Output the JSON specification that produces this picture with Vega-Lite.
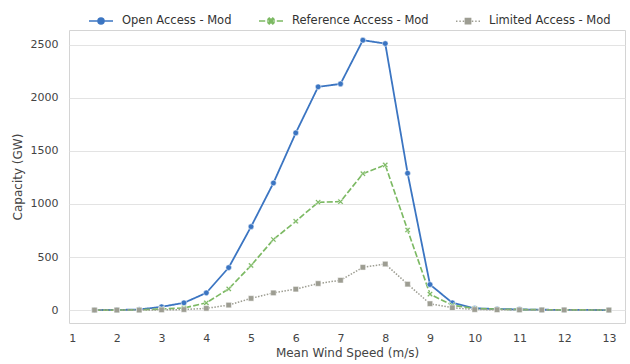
{
  "$schema": "https://vega.github.io/schema/vega-lite/v6.json",
  "autosize": "none",
  "width": 556,
  "height": 293,
  "padding": {"left": 69, "top": 30, "right": 5, "bottom": 41},
  "background": "white",
  "config": {
    "font": "DejaVu Sans",
    "view": {"stroke": "#d4d4d4", "strokeWidth": 1},
    "axis": {"labelFont": "DejaVu Sans", "titleFont": "DejaVu Sans", "labelFontSize": 11, "titleFontSize": 12, "labelColor": "#444444", "titleColor": "#444444", "titleFontWeight": "normal", "domain": false, "ticks": false}
  },
  "datasets": {
    "cap": [
      {"series": "Open Access - Mod", "speed": 1.5, "capacity": 0},
      {"series": "Open Access - Mod", "speed": 2, "capacity": 1},
      {"series": "Open Access - Mod", "speed": 2.5, "capacity": 5},
      {"series": "Open Access - Mod", "speed": 3, "capacity": 31},
      {"series": "Open Access - Mod", "speed": 3.5, "capacity": 68},
      {"series": "Open Access - Mod", "speed": 4, "capacity": 162},
      {"series": "Open Access - Mod", "speed": 4.5, "capacity": 400},
      {"series": "Open Access - Mod", "speed": 5, "capacity": 786},
      {"series": "Open Access - Mod", "speed": 5.5, "capacity": 1198},
      {"series": "Open Access - Mod", "speed": 6, "capacity": 1670},
      {"series": "Open Access - Mod", "speed": 6.5, "capacity": 2104},
      {"series": "Open Access - Mod", "speed": 7, "capacity": 2132},
      {"series": "Open Access - Mod", "speed": 7.5, "capacity": 2544},
      {"series": "Open Access - Mod", "speed": 8, "capacity": 2512},
      {"series": "Open Access - Mod", "speed": 8.5, "capacity": 1290},
      {"series": "Open Access - Mod", "speed": 9, "capacity": 241},
      {"series": "Open Access - Mod", "speed": 9.5, "capacity": 68},
      {"series": "Open Access - Mod", "speed": 10, "capacity": 16},
      {"series": "Open Access - Mod", "speed": 10.5, "capacity": 10},
      {"series": "Open Access - Mod", "speed": 11, "capacity": 6},
      {"series": "Open Access - Mod", "speed": 11.5, "capacity": 3},
      {"series": "Open Access - Mod", "speed": 12, "capacity": 2},
      {"series": "Open Access - Mod", "speed": 13, "capacity": 0},
      {"series": "Reference Access - Mod", "speed": 1.5, "capacity": 0},
      {"series": "Reference Access - Mod", "speed": 2, "capacity": 0},
      {"series": "Reference Access - Mod", "speed": 2.5, "capacity": 2},
      {"series": "Reference Access - Mod", "speed": 3, "capacity": 10},
      {"series": "Reference Access - Mod", "speed": 3.5, "capacity": 20},
      {"series": "Reference Access - Mod", "speed": 4, "capacity": 68},
      {"series": "Reference Access - Mod", "speed": 4.5, "capacity": 200},
      {"series": "Reference Access - Mod", "speed": 5, "capacity": 420},
      {"series": "Reference Access - Mod", "speed": 5.5, "capacity": 665},
      {"series": "Reference Access - Mod", "speed": 6, "capacity": 837},
      {"series": "Reference Access - Mod", "speed": 6.5, "capacity": 1016},
      {"series": "Reference Access - Mod", "speed": 7, "capacity": 1022},
      {"series": "Reference Access - Mod", "speed": 7.5, "capacity": 1286},
      {"series": "Reference Access - Mod", "speed": 8, "capacity": 1368},
      {"series": "Reference Access - Mod", "speed": 8.5, "capacity": 755},
      {"series": "Reference Access - Mod", "speed": 9, "capacity": 150},
      {"series": "Reference Access - Mod", "speed": 9.5, "capacity": 45},
      {"series": "Reference Access - Mod", "speed": 10, "capacity": 15},
      {"series": "Reference Access - Mod", "speed": 10.5, "capacity": 8},
      {"series": "Reference Access - Mod", "speed": 11, "capacity": 5},
      {"series": "Reference Access - Mod", "speed": 11.5, "capacity": 3},
      {"series": "Reference Access - Mod", "speed": 12, "capacity": 2},
      {"series": "Reference Access - Mod", "speed": 13, "capacity": 0},
      {"series": "Limited Access - Mod", "speed": 1.5, "capacity": 0},
      {"series": "Limited Access - Mod", "speed": 2, "capacity": 0},
      {"series": "Limited Access - Mod", "speed": 2.5, "capacity": 0},
      {"series": "Limited Access - Mod", "speed": 3, "capacity": 2},
      {"series": "Limited Access - Mod", "speed": 3.5, "capacity": 5},
      {"series": "Limited Access - Mod", "speed": 4, "capacity": 16},
      {"series": "Limited Access - Mod", "speed": 4.5, "capacity": 47},
      {"series": "Limited Access - Mod", "speed": 5, "capacity": 110},
      {"series": "Limited Access - Mod", "speed": 5.5, "capacity": 162},
      {"series": "Limited Access - Mod", "speed": 6, "capacity": 197},
      {"series": "Limited Access - Mod", "speed": 6.5, "capacity": 250},
      {"series": "Limited Access - Mod", "speed": 7, "capacity": 281},
      {"series": "Limited Access - Mod", "speed": 7.5, "capacity": 403},
      {"series": "Limited Access - Mod", "speed": 8, "capacity": 434},
      {"series": "Limited Access - Mod", "speed": 8.5, "capacity": 244},
      {"series": "Limited Access - Mod", "speed": 9, "capacity": 60},
      {"series": "Limited Access - Mod", "speed": 9.5, "capacity": 22},
      {"series": "Limited Access - Mod", "speed": 10, "capacity": 5},
      {"series": "Limited Access - Mod", "speed": 10.5, "capacity": 3},
      {"series": "Limited Access - Mod", "speed": 11, "capacity": 2},
      {"series": "Limited Access - Mod", "speed": 11.5, "capacity": 1},
      {"series": "Limited Access - Mod", "speed": 12, "capacity": 1},
      {"series": "Limited Access - Mod", "speed": 13, "capacity": 0}
    ]
  },
  "data": {"name": "cap"},
  "encoding": {
    "x": {"field": "speed", "type": "quantitative", "title": "Mean Wind Speed (m/s)",
      "scale": {"domain": [0.93, 13.36], "nice": false, "zero": false},
      "axis": {"values": [1,2,3,4,5,6,7,8,9,10,11,12,13], "grid": false, "labelPadding": 9, "titlePadding": 4}},
    "y": {"field": "capacity", "type": "quantitative", "title": "Capacity (GW)",
      "scale": {"domain": [-122, 2640], "nice": false, "zero": false},
      "axis": {"values": [0,500,1000,1500,2000,2500], "format": "d", "grid": true, "gridColor": "#e3e3e3", "gridWidth": 1, "labelPadding": 11, "titlePadding": 6}}
  },
  "layer": [
    {
      "mark": {"type": "line"},
      "encoding": {
        "color": {"field": "series", "type": "nominal", "legend": null,
          "scale": {"domain": ["Open Access - Mod", "Reference Access - Mod", "Limited Access - Mod"], "range": ["#3b75c2", "#7cb963", "#9d9d92"]}},
        "strokeDash": {"field": "series", "type": "nominal", "legend": null,
          "scale": {"domain": ["Open Access - Mod", "Reference Access - Mod", "Limited Access - Mod"], "range": [[1, 0], [6, 2.25], [1.5, 1.5]]}},
        "strokeWidth": {"field": "series", "type": "nominal", "legend": null,
          "scale": {"domain": ["Open Access - Mod", "Reference Access - Mod", "Limited Access - Mod"], "range": [1.8, 1.5, 1.5]}}
      }
    },
    {
      "transform": [{"filter": "datum.series === 'Open Access - Mod'"}],
      "mark": {"type": "point", "filled": true, "opacity": 1, "color": "#3b75c2", "stroke": "white", "strokeWidth": 0.5, "size": 32, "shape": "circle"}
    },
    {
      "transform": [{"filter": "datum.series === 'Reference Access - Mod'"}],
      "mark": {"type": "point", "filled": true, "opacity": 1, "color": "#7cb963", "stroke": "white", "strokeWidth": 0.5, "size": 32, "shape": "M-1,-0.6L-0.6,-1L0,-0.4L0.6,-1L1,-0.6L0.4,0L1,0.6L0.6,1L0,0.4L-0.6,1L-1,0.6L-0.4,0Z"}
    },
    {
      "transform": [{"filter": "datum.series === 'Limited Access - Mod'"}],
      "mark": {"type": "point", "filled": true, "opacity": 1, "color": "#9d9d92", "stroke": "white", "strokeWidth": 0.5, "size": 30, "shape": "square"}
    },
    {
      "transform": [{"filter": "datum.capacity < -1000"}],
      "mark": {"type": "point", "filled": true, "opacity": 1, "size": 576},
      "encoding": {
        "fill": {"field": "series", "type": "nominal",
          "scale": {"domain": ["Open Access - Mod", "Reference Access - Mod", "Limited Access - Mod"], "range": ["#3b75c2", "#7cb963", "#9d9d92"]},
          "legend": {"title": null, "orient": "none", "direction": "horizontal", "legendX": 19, "legendY": -22, "symbolSize": 576, "symbolOpacity": 1, "symbolStrokeWidth": 1.5, "labelFontSize": 11.5, "labelColor": "#333333", "labelOffset": 8, "columnPadding": 24}},
        "stroke": {"field": "series", "type": "nominal",
          "scale": {"domain": ["Open Access - Mod", "Reference Access - Mod", "Limited Access - Mod"], "range": ["#3b75c2", "#7cb963", "#9d9d92"]},
          "legend": {"title": null, "orient": "none", "direction": "horizontal", "legendX": 19, "legendY": -22, "symbolSize": 576, "symbolOpacity": 1, "symbolStrokeWidth": 1.5, "labelFontSize": 11.5, "labelColor": "#333333", "labelOffset": 8, "columnPadding": 24}},
        "shape": {"field": "series", "type": "nominal",
          "scale": {"domain": ["Open Access - Mod", "Reference Access - Mod", "Limited Access - Mod"],
            "range": [
              "M-1,0H1M0.25,0A0.25,0.25 0 1 1 -0.25,0A0.25,0.25 0 1 1 0.25,0Z",
              "M-1,0H-0.48M-0.34,0H-0.26M0.26,0H0.34M0.48,0H1M-0.25,-0.15L-0.15,-0.25L0,-0.1L0.15,-0.25L0.25,-0.15L0.1,0L0.25,0.15L0.15,0.25L0,0.1L-0.15,0.25L-0.25,0.15L-0.1,0Z",
              "M-1,0H-0.88M-0.72,0H-0.6M-0.44,0H-0.32M0.32,0H0.44M0.6,0H0.72M0.88,0H1M-0.22,-0.22H0.22V0.22H-0.22Z"
            ]},
          "legend": {"title": null, "orient": "none", "direction": "horizontal", "legendX": 19, "legendY": -22, "symbolSize": 576, "symbolOpacity": 1, "symbolStrokeWidth": 1.5, "labelFontSize": 11.5, "labelColor": "#333333", "labelOffset": 8, "columnPadding": 24}}
      }
    }
  ],
  "resolve": {"legend": {"fill": "independent", "stroke": "independent", "shape": "independent"}}
}
